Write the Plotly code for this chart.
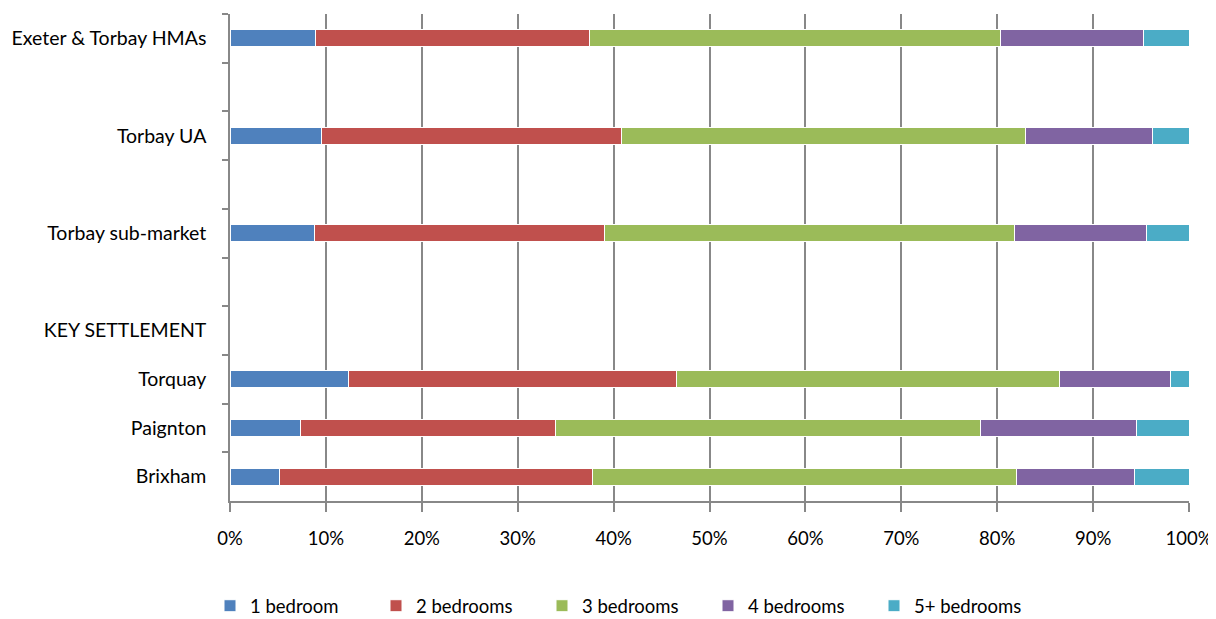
import plotly.graph_objects as go

categories = ["Exeter & Torbay HMAs", " ", "Torbay UA", "  ", "Torbay sub-market", "   ",
              "KEY SETTLEMENT", "Torquay", "Paignton", "Brixham"]
series_names = ["1 bedroom", "2 bedrooms", "3 bedrooms", "4 bedrooms", "5+ bedrooms"]
one_bed = [8.9, None, 9.5, None, 8.8, None, None, 12.4, 7.4, 5.2]
two_bed = [28.6, None, 31.3, None, 30.2, None, None, 34.2, 26.5, 32.6]
three_bed = [42.8, None, 42.1, None, 42.8, None, None, 39.9, 44.4, 44.2]
four_bed = [15.0, None, 13.3, None, 13.8, None, None, 11.6, 16.2, 12.3]
five_bed = [4.7, None, 3.8, None, 4.4, None, None, 1.9, 5.5, 5.7]
colors = ["#4F81BD", "#C0504D", "#9BBB59", "#8064A2", "#4BACC6"]
x_ticks = [0, 10, 20, 30, 40, 50, 60, 70, 80, 90, 100]
x_tick_labels = [f"{v}%" for v in x_ticks]

FONT = "Lato, 'Open Sans', sans-serif"

fig = go.Figure()
for name, vals, col in zip(series_names, [one_bed, two_bed, three_bed, four_bed, five_bed], colors):
    fig.add_trace(go.Bar(
        y=categories, x=vals, name=name, orientation="h",
        marker=dict(color=col, line=dict(color="white", width=1)),
    ))

# the page body adds an 8px offset, so the figure is 8px smaller on each axis
fig.update_layout(
    barmode="stack",
    bargap=0.65,
    width=1208, height=611,
    margin=dict(l=222, r=27, t=6, b=118, autoexpand=False),
    plot_bgcolor="white", paper_bgcolor="white",
    font=dict(family=FONT, size=19.5, color="#000000"),
    legend=dict(orientation="h", xref="container", yref="paper",
                x=202 / 1208, xanchor="left", y=-0.216, yanchor="middle",
                font=dict(size=18.5), entrywidth=121, entrywidthmode="pixels",
                itemwidth=30, traceorder="normal"),
    xaxis=dict(range=[0, 100], tickvals=x_ticks, ticktext=x_tick_labels,
               tickfont=dict(size=18.5),
               showgrid=True, gridcolor="#888888", gridwidth=1.5,
               showline=True, linecolor="#888888", linewidth=1.5,
               ticks="outside", ticklen=9, tickcolor="#888888", tickwidth=1.5,
               ticklabelstandoff=11, zeroline=False, fixedrange=True, automargin=False),
    yaxis=dict(type="category", categoryorder="array", categoryarray=categories,
               autorange="reversed", tickson="boundaries",
               showline=True, linecolor="#888888", linewidth=1.5,
               ticks="outside", ticklen=6, tickcolor="#888888", tickwidth=1.5,
               ticklabelstandoff=18, showgrid=False, fixedrange=True, automargin=False),
)

fig.write_html("out.html")
